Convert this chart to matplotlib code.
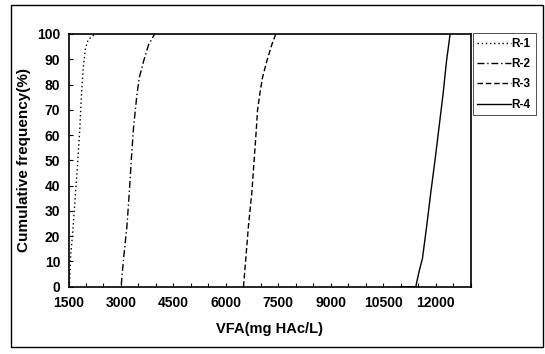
import matplotlib
matplotlib.use("Agg")
import matplotlib.pyplot as plt
from matplotlib.patches import Rectangle
from matplotlib.ticker import MultipleLocator

plt.rcParams['font.family'] = ['Liberation Sans', 'DejaVu Sans']
plt.rcParams['font.weight'] = 'bold'

# data (VFA mg HAc/L vs cumulative %)
r1_x = [1500, 1529, 1557, 1635, 1700, 1769, 1826, 1872, 1921, 1987, 2064, 2179, 2273]
r1_y = [0, 1.4, 11.2, 24.2, 37.2, 50.3, 63.3, 76.3, 86.7, 94.5, 97.8, 99.1, 100]

r2_x = [3009, 3075, 3172, 3238, 3296, 3361, 3410, 3459, 3525, 3648, 3791, 3963]
r2_y = [0.8, 11.2, 24.2, 37.2, 50.3, 63.3, 69.8, 76.3, 82.8, 89.3, 95.8, 100]

r3_x = [6503, 6569, 6646, 6741, 6809, 6875, 6904, 6970, 7047, 7170, 7313, 7428]
r3_y = [0, 11.2, 24.2, 37.2, 50.3, 63.3, 69.8, 76.3, 82.8, 89.3, 95.8, 100]

r4_x = [11000, 11429, 11523, 11620, 11743, 11858, 11981, 12096, 12210, 12308, 12411]
r4_y = [0, 0, 6, 11.2, 24.2, 37.2, 50.3, 63.3, 76.3, 89.3, 100]

names = ['R-1', 'R-2', 'R-3', 'R-4']

fig = plt.figure(figsize=(5.45, 3.54), dpi=100)
ax = fig.add_axes([0.1257, 0.19, 0.738, 0.714])

ax.plot(r1_x, r1_y, color='black', lw=1.0, linestyle=(0, (1, 2)), label=names[0])
ax.plot(r2_x, r2_y, color='black', lw=1.0, linestyle=(0, (5, 2, 1, 2)), label=names[1])
ax.plot(r3_x, r3_y, color='black', lw=1.0, linestyle=(0, (4, 2)), label=names[2])
ax.plot(r4_x, r4_y, color='black', lw=1.0, linestyle='-', label=names[3])

ax.set_xlim(1500, 13000)
ax.set_ylim(0, 100)
ax.xaxis.set_major_locator(MultipleLocator(1500))
ax.xaxis.set_minor_locator(MultipleLocator(500))
ax.yaxis.set_major_locator(MultipleLocator(10))
ax.tick_params(which='both', direction='in', length=3, width=0.8, labelsize=10)
ax.tick_params(axis='x', pad=7)
ax.tick_params(axis='y', pad=6)
for s in ax.spines.values():
    s.set_linewidth(1.2)

ax.set_xlabel('VFA(mg HAc/L)', fontsize=10.5, fontweight='bold', labelpad=8)
ax.set_ylabel('Cumulative frequency(%)', fontsize=11, fontweight='bold', labelpad=4)

leg = ax.legend(loc='upper left', bbox_to_anchor=(1.005, 1.003), frameon=True,
                fancybox=False, edgecolor='black', fontsize=8.5, handlelength=2.8,
                handletextpad=0.1, borderpad=0.4, labelspacing=0.7, borderaxespad=0)
leg.get_frame().set_linewidth(0.6)

fig.patches.append(Rectangle((0.021, 0.02), 0.975, 0.965, transform=fig.transFigure,
                             fill=False, edgecolor='black', lw=1.0))

fig.savefig('out.png', dpi=100)
